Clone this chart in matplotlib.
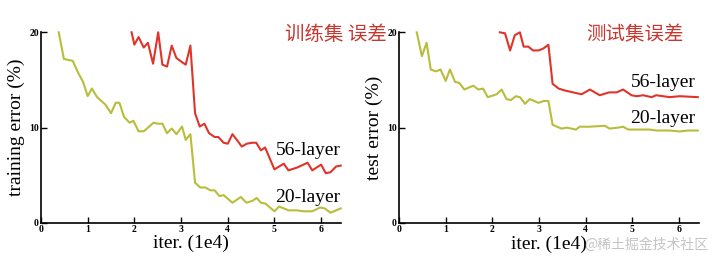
import matplotlib.pyplot as plt

# iterations (1e4) and error (%)
train20_x = [0.38, 0.49, 0.68, 0.78, 0.9, 1.0, 1.09, 1.2, 1.38, 1.5, 1.6, 1.68, 1.78, 1.9, 1.98,
             2.09, 2.2, 2.41, 2.5, 2.6, 2.7, 2.8, 2.9, 3.02, 3.1, 3.2, 3.3, 3.41, 3.52, 3.63,
             3.72, 3.82, 3.91, 4.1, 4.28, 4.4, 4.53, 4.62, 4.71, 4.81, 5.0, 5.1, 5.3, 5.48,
             5.62, 5.81, 5.98, 6.08, 6.2, 6.42]
train20_y = [20.0, 17.2, 17.0, 15.9, 14.8, 13.3, 14.1, 13.2, 12.4, 11.5, 12.6, 12.6, 11.1, 10.5, 10.7,
             9.6, 9.6, 10.5, 10.4, 10.4, 9.4, 9.9, 9.3, 10.1, 8.7, 9.3, 4.2, 3.7, 3.7, 3.4,
             3.4, 2.8, 2.9, 2.1, 2.7, 2.1, 2.3, 2.6, 2.1, 2.0, 1.2, 1.7, 1.3, 1.3,
             1.2, 1.2, 1.6, 1.5, 1.05, 1.5]

train56_x = [1.94, 2.0, 2.09, 2.2, 2.29, 2.4, 2.51, 2.6, 2.7, 2.8, 2.9, 3.01, 3.1, 3.2, 3.3,
             3.4, 3.5, 3.6, 3.72, 3.8, 3.91, 4.0, 4.1, 4.21, 4.3, 4.41, 4.52, 4.61, 4.71,
             4.8, 5.0, 5.2, 5.3, 5.49, 5.71, 5.81, 6.0, 6.1, 6.2, 6.32, 6.42]
train56_y = [20.0, 18.7, 19.5, 18.4, 18.9, 16.7, 20.0, 16.6, 16.4, 18.6, 17.3, 16.9, 16.6, 18.6, 11.5,
             10.1, 10.4, 9.4, 9.0, 9.0, 8.4, 8.3, 9.3, 8.6, 8.0, 8.3, 8.4, 8.4, 7.6,
             7.9, 5.6, 6.2, 5.5, 5.8, 6.3, 5.5, 6.1, 5.2, 5.3, 5.9, 6.0]

test20_x = [0.38, 0.49, 0.59, 0.68, 0.79, 0.89, 1.0, 1.09, 1.2, 1.29, 1.4, 1.59, 1.7, 1.8, 1.9,
            2.09, 2.2, 2.3, 2.4, 2.5, 2.59, 2.7, 2.8, 2.99, 3.1, 3.2, 3.29, 3.48, 3.6, 3.79,
            3.87, 4.09, 4.41, 4.51, 4.69, 4.8, 4.91, 5.09, 5.37, 5.51, 5.8, 6.01, 6.19, 6.4]
test20_y = [20.0, 17.5, 18.9, 16.1, 15.9, 16.1, 14.9, 16.1, 14.8, 14.7, 14.0, 14.4, 14.0, 14.1, 13.2,
            13.5, 14.0, 13.0, 12.9, 13.3, 13.2, 12.5, 13.0, 12.6, 12.8, 12.8, 10.3, 9.9, 10.0, 9.8,
            10.1, 10.1, 10.2, 9.9, 10.0, 10.1, 9.8, 9.8, 9.8, 9.7, 9.7, 9.6, 9.7, 9.7]

test56_x = [2.16, 2.27, 2.38, 2.48, 2.59, 2.67, 2.77, 2.87, 2.99, 3.09, 3.2, 3.29, 3.42, 3.55,
            3.73, 3.91, 4.09, 4.3, 4.5, 4.66, 4.8, 4.98, 5.09, 5.23, 5.41, 5.51, 5.8, 6.01, 6.4]
test56_y = [20.0, 19.9, 18.1, 19.7, 20.0, 18.5, 18.5, 18.1, 18.1, 18.3, 18.7, 14.6, 14.1, 13.9,
            13.7, 13.5, 14.0, 13.4, 13.7, 13.7, 14.0, 13.4, 13.3, 13.4, 13.2, 13.4, 13.2, 13.3, 13.2]

RED = "#e0342b"
OLIVE = "#b9bd3c"
serif = ["Liberation Serif", "DejaVu Serif"]
cjk = ["Noto Sans CJK SC", "DejaVu Sans"]

fig = plt.figure(figsize=(7.17, 2.58), dpi=100)
ax1 = fig.add_axes([0.0572, 0.1368, 0.418, 0.738])
ax2 = fig.add_axes([0.5565, 0.1357, 0.418, 0.739])


def style(ax, ylabel):
    ax.set_xlim(0, 6.42)
    ax.set_ylim(0, 20)
    ax.set_xticks(range(7))
    ax.set_yticks([0, 10, 20])
    ax.spines["top"].set_visible(False)
    ax.spines["right"].set_visible(False)
    for s in ("left", "bottom"):
        ax.spines[s].set_linewidth(1.2)
    ax.tick_params(direction="in", length=4, width=1, pad=1.5)
    for lab in ax.get_xticklabels() + ax.get_yticklabels():
        lab.set_fontfamily(serif)
        lab.set_fontweight("bold")
        lab.set_fontsize(7)
    ax.set_xlabel("iter. (1e4)", family=serif, fontsize=14, labelpad=1)
    ax.set_ylabel(ylabel, family=serif, fontsize=14, labelpad=3)


ax1.plot(train20_x, train20_y, color=OLIVE, lw=1.5, clip_on=False)
ax1.plot(train56_x, train56_y, color=RED, lw=1.5, clip_on=False)
style(ax1, "training error (%)")
ax1.text(6.42, 7.6, "56-layer", family=serif, fontsize=14, ha="right", va="center")
ax1.text(6.42, 2.7, "20-layer", family=serif, fontsize=14, ha="right", va="center")

ax2.plot(test20_x, test20_y, color=OLIVE, lw=1.5, clip_on=False)
ax2.plot(test56_x, test56_y, color=RED, lw=1.5, clip_on=False)
style(ax2, "test error (%)")
ax2.text(6.35, 14.7, "56-layer", family=serif, fontsize=14, ha="right", va="center")
ax2.text(6.35, 11.0, "20-layer", family=serif, fontsize=14, ha="right", va="center")

# handwritten notes and watermark
fig.text(0.397, 0.865, "训练集 误差", family=cjk, fontsize=14, fontweight="light",
         color="#c8372f", va="center")
fig.text(0.817, 0.865, "测试集误差", family=cjk, fontsize=14, fontweight="light",
         color="#c8372f", va="center")
fig.text(0.988, 0.05, "@稀土掘金技术社区", family=cjk, fontsize=10, color="#c4c4c4",
         ha="right", va="center")

fig.savefig("out.png", dpi=100)
